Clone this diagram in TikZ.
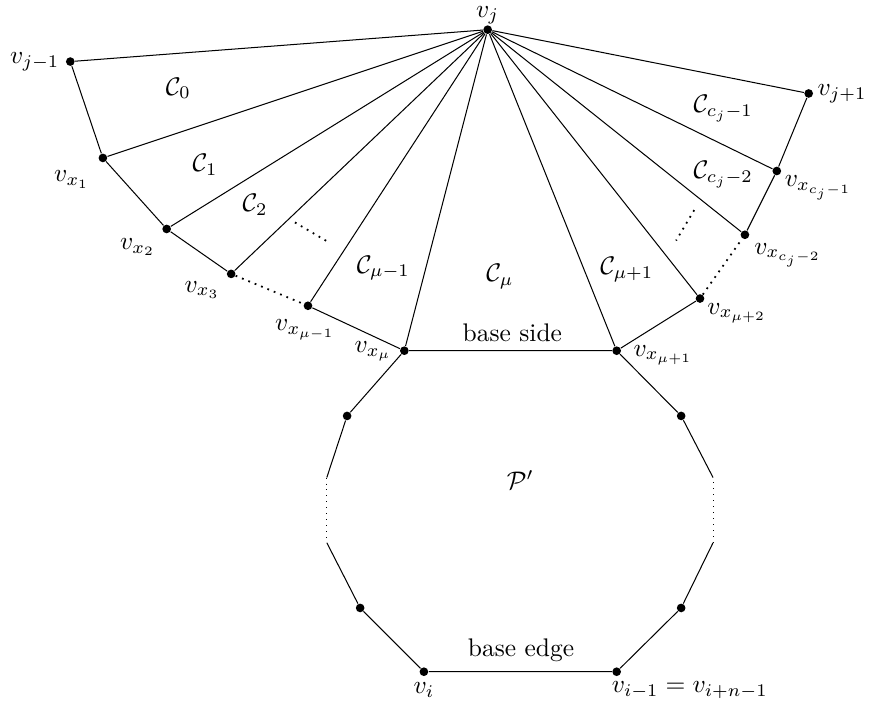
\documentclass[tikz,border=0pt]{standalone}
\usepackage{amsmath,amssymb}
\usepackage{tikz}
\usetikzlibrary{positioning,calc}
\tikzset{
  vtx/.style = {circle, fill=black, inner sep=0pt, minimum size=3.4pt},
  lbl/.style = {inner sep=1pt},
  gap/.style = {dotted, line width=0.7pt},
  fine/.style = {dotted, line width=0.35pt},
}

\begin{document}
\begin{tikzpicture}[x=1cm,y=1cm]
  \useasboundingbox (0,0) rectangle (12.02,9.74);

  % fan around v_j
  \node[vtx] (vj) at (6.73,9.33) {};
  \node[vtx] (vjm) at (0.97,8.89) {};
  \node[vtx] (x1) at (1.42,7.56) {};
  \node[vtx] (x2) at (2.30,6.58) {};
  \node[vtx] (x3) at (3.19,5.96) {};
  \node[vtx] (xmm) at (4.25,5.52) {};
  \node[vtx] (xm) at (5.58,4.90) {};
  \node[vtx] (xmp) at (8.51,4.90) {};
  \node[vtx] (xmpp) at (9.66,5.62) {};
  \node[vtx] (xcc) at (10.28,6.50) {};
  \node[vtx] (xc) at (10.72,7.38) {};
  \node[vtx] (vjp) at (11.16,8.45) {};
  \foreach \t in {vjm,x1,x2,x3,xmm,xm,xmp,xmpp,xcc,xc,vjp}
    \draw (vj) -- (\t);
  \draw (vjm) -- (x1) -- (x2) -- (x3);
  \draw[gap] (x3) -- (xmm);
  \draw (xmm) -- (xm) -- (xmp) -- (xmpp);
  \draw[gap] (xmpp) -- (xcc);
  \draw (xcc) -- (xc) -- (vjp);

  % skipped cells
  \coordinate (dl1) at (4.07,6.67);
  \coordinate (dl2) at (4.53,6.40);
  \coordinate (dr1) at (9.58,6.84);
  \coordinate (dr2) at (9.33,6.42);
  \draw[gap] (dl1) -- (dl2);
  \draw[gap] (dr1) -- (dr2);

  % the polygon P'
  \node[vtx] (pl1) at (4.79,4.00) {};
  \coordinate (pl1b) at (4.51,3.15);
  \coordinate (pl2a) at (4.51,2.25);
  \node[vtx] (pl2) at (4.97,1.35) {};
  \node[vtx] (vi) at (5.85,0.47) {};
  \node[vtx] (vim) at (8.51,0.47) {};
  \node[vtx] (pr2) at (9.40,1.35) {};
  \coordinate (pr2a) at (9.84,2.25);
  \coordinate (pr1b) at (9.84,3.15);
  \node[vtx] (pr1) at (9.40,4.00) {};
  \draw (xm) -- (pl1) -- (pl1b);
  \draw[fine] (pl1b) -- (pl2a);
  \draw (pl2a) -- (pl2) -- (vi) -- (vim) -- (pr2) -- (pr2a);
  \draw[fine] (pr2a) -- (pr1b);
  \draw (pr1b) -- (pr1) -- (xmp);

  % vertex labels
  \node[lbl] (lvj) at (6.73,9.53) {$v_j$};
  \node[lbl] (lvjm) at (0.48,8.89) {$v_{j-1}$};
  \node[lbl] (lx1) at (0.99,7.26) {$v_{x_1}$};
  \node[lbl] (lx2) at (1.90,6.33) {$v_{x_2}$};
  \node[lbl] (lx3) at (2.79,5.74) {$v_{x_3}$};
  \node[lbl] (lxmm) at (4.21,5.19) {$v_{x_{\mu-1}}$};
  \node[lbl] (lxm) at (5.15,4.89) {$v_{x_\mu}$};
  \node[lbl] (lxmp) at (9.15,4.84) {$v_{x_{\mu+1}}$};
  \node[lbl] (lxmpp) at (10.17,5.42) {$v_{x_{\mu+2}}$};
  \node[lbl] (lxcc) at (10.87,6.22) {$v_{x_{c_j-2}}$};
  \node[lbl] (lxc) at (11.29,7.15) {$v_{x_{c_j-1}}$};
  \node[lbl] (lvjp) at (11.62,8.45) {$v_{j+1}$};
  \node[lbl] (lvi) at (5.85,0.22) {$v_i$};
  \node[lbl, anchor=west] (lvim) at (8.40,0.22) {$v_{i-1}=v_{i+n-1}$};

  % cell labels
  \node[lbl] (c0) at (2.46,8.52) {$\mathcal{C}_0$};
  \node[lbl] (c1) at (2.83,7.47) {$\mathcal{C}_1$};
  \node[lbl] (c2) at (3.52,6.91) {$\mathcal{C}_2$};
  \node[lbl] (cmm) at (5.29,6.04) {$\mathcal{C}_{\mu-1}$};
  \node[lbl] (cm) at (6.90,5.92) {$\mathcal{C}_\mu$};
  \node[lbl] (cmp) at (8.65,6.02) {$\mathcal{C}_{\mu+1}$};
  \node[lbl] (ccc) at (9.98,7.33) {$\mathcal{C}_{c_j-2}$};
  \node[lbl] (cc) at (9.98,8.24) {$\mathcal{C}_{c_j-1}$};

  \node[lbl] (bside) at (7.07,5.15) {base side};
  \node[lbl] (bedge) at (7.19,0.76) {base edge};
  \node[lbl] (pp) at (7.18,3.12) {$\mathcal{P}'$};
\end{tikzpicture}
\end{document}
